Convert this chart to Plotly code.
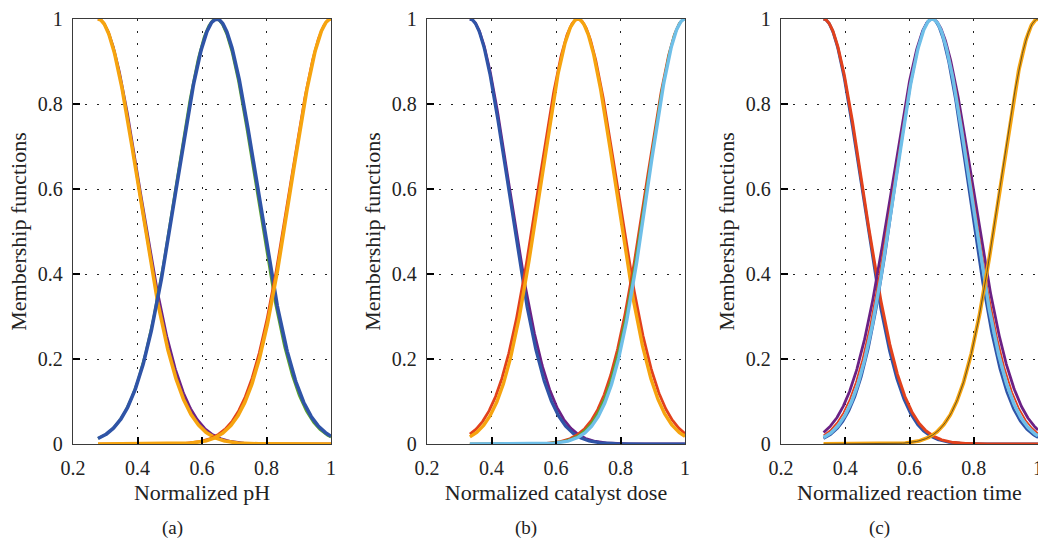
import numpy as np
import plotly.graph_objects as go

# ---------------- data ----------------
# normalized input ranges on which each set of Gaussian MFs is defined
PH_RANGE = [0.2775, 1.0]
DOSE_RANGE = [0.333, 1.0]
TIME_RANGE = [0.3325, 1.0]

# Gaussian membership-function parameters (centre, sigma) for every drawn curve
PH_CENTERS = [0.2775, 0.2775, 0.2775, 0.643, 0.646, 1.0, 1.0]
PH_SIGMAS = [0.126, 0.129, 0.125, 0.124, 0.125, 0.127, 0.124]

DOSE_CENTERS = [0.333, 0.333, 0.668, 0.668, 1.0, 1.0, 1.0]
DOSE_SIGMAS = [0.122, 0.118, 0.122, 0.117, 0.121, 0.118, 0.115]

TIME_CENTERS = [0.3325, 0.3325, 0.671, 0.671, 0.669, 0.671, 1.0, 1.0]
TIME_SIGMAS = [0.118, 0.121, 0.126, 0.121, 0.114, 0.117, 0.118, 0.118]

X_TICKS = [0.2, 0.4, 0.6, 0.8, 1.0]
X_TICK_LABELS = ["0.2", "0.4", "0.6", "0.8", "1"]
Y_TICKS = [0, 0.2, 0.4, 0.6, 0.8, 1.0]
Y_TICK_LABELS = ["0", "0.2", "0.4", "0.6", "0.8", "1"]

X_TITLES = ["Normalized pH", "Normalized catalyst dose", "Normalized reaction time"]
Y_TITLE = "Membership functions"
PANEL_LABELS = ["(a)", "(b)", "(c)"]

# ---------------- styles ----------------
ORANGE = "#F6A40F"
RED = "#E2411C"
PURPLE = "#6B2185"
BLUE = "#2F54A7"
GREEN = "#5CA32E"
LBLUE = "#6FBFE8"
DARK = "#5a4a22"

PH_COLORS = [RED, PURPLE, ORANGE, GREEN, BLUE, RED, ORANGE]
PH_WIDTHS = [2.5, 2.5, 3.6, 2.5, 3.6, 2.5, 3.6]

DOSE_COLORS = [PURPLE, BLUE, RED, ORANGE, RED, GREEN, LBLUE]
DOSE_WIDTHS = [2.8, 3.2, 2.8, 3.4, 2.5, 2.5, 3.4]

TIME_COLORS = [BLUE, RED, PURPLE, RED, BLUE, LBLUE, ORANGE, DARK]
TIME_WIDTHS = [3.0, 3.0, 2.8, 1.8, 2.5, 3.4, 3.8, 0.9]

FONT = "Liberation Serif"


def gaussmf(x, c, s):
    return np.exp(-((x - c) ** 2) / (2 * s ** 2))


fig = go.Figure()

panels = [
    (PH_RANGE, PH_CENTERS, PH_SIGMAS, PH_COLORS, PH_WIDTHS),
    (DOSE_RANGE, DOSE_CENTERS, DOSE_SIGMAS, DOSE_COLORS, DOSE_WIDTHS),
    (TIME_RANGE, TIME_CENTERS, TIME_SIGMAS, TIME_COLORS, TIME_WIDTHS),
]

for i, (rng, cs, ss, cols, wids) in enumerate(panels):
    x = np.linspace(rng[0], rng[1], 400)
    suffix = "" if i == 0 else str(i + 1)
    for c, s, col, w in zip(cs, ss, cols, wids):
        fig.add_trace(go.Scatter(
            x=x, y=gaussmf(x, c, s), mode="lines",
            line=dict(color=col, width=w),
            xaxis="x" + suffix, yaxis="y" + suffix,
            showlegend=False, hoverinfo="skip"))

W, H = 1038, 541
x_domains = [[73 / W, 331 / W], [427 / W, 685 / W], [781 / W, 1.0]]
y_domain = [(H - 444) / H, (H - 19) / H]

tickfont = dict(family=FONT, size=20, color="#222")
titlefont = dict(family=FONT, size=22, color="#222")
labelfont = dict(family=FONT, size=19, color="#222")

common = dict(
    ticks="inside", ticklen=7, tickwidth=2, tickcolor="black",
    showline=True, linecolor="#3a3a3a", linewidth=1.3, mirror=True,
    showgrid=True, gridcolor="#222", griddash="2px,10px", gridwidth=1,
    zeroline=False, tickfont=tickfont, automargin=False,
    ticklabeloverflow="allow",
)

layout = dict(
    width=W, height=H,
    margin=dict(l=0, r=0, t=0, b=0),
    paper_bgcolor="white", plot_bgcolor="white",
    showlegend=False,
)

annotations = []
label_x = [172, 526, 879]
for i in range(3):
    suffix = "" if i == 0 else str(i + 1)
    layout["xaxis" + suffix] = dict(
        common, domain=x_domains[i], range=[0.2, 1.0],
        tickvals=X_TICKS, ticktext=X_TICK_LABELS,
        anchor="y" + suffix, ticklabelstandoff=6,
        title=dict(text=X_TITLES[i], font=titlefont, standoff=6),
    )
    layout["yaxis" + suffix] = dict(
        common, domain=y_domain, range=[0, 1.0],
        tickvals=Y_TICKS, ticktext=Y_TICK_LABELS,
        anchor="x" + suffix, ticklabelstandoff=5,
        title=dict(text=Y_TITLE, font=titlefont, standoff=5),
    )
    annotations.append(dict(
        text=PANEL_LABELS[i], xref="paper", yref="paper",
        x=label_x[i] / W, y=(H - 528) / H, xanchor="center", yanchor="middle",
        showarrow=False, font=labelfont))

layout["annotations"] = annotations
fig.update_layout(**layout)

fig.write_html("out.html")
